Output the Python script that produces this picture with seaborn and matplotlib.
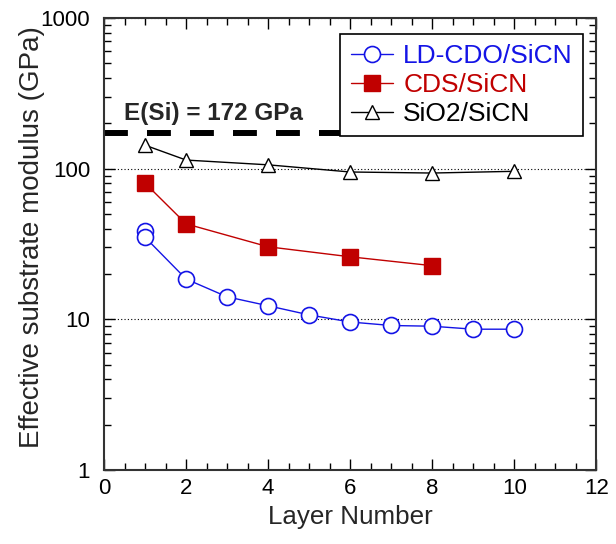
import matplotlib
matplotlib.use("Agg")
import matplotlib.pyplot as plt
from matplotlib.ticker import LogLocator, MultipleLocator, FixedLocator, NullFormatter
import seaborn as sns
import pandas as pd

# Effective substrate modulus (GPa) versus number of stacked layers
ld_cdo_layers = [1, 1, 2, 3, 4, 5, 6, 7, 8, 9, 10]
ld_cdo_modulus = [38.7, 35.0, 18.5, 14.1, 12.3, 10.7, 9.6, 9.1, 9.0, 8.6, 8.6]

cds_layers = [1, 2, 4, 6, 8]
cds_modulus = [80.0, 43.0, 30.3, 26.0, 22.7]

sio2_layers = [1, 2, 4, 6, 8, 10]
sio2_modulus = [143.0, 114.0, 106.0, 95.0, 93.5, 96.0]

e_si = 172.0
e_si_label = "E(Si) = 172 GPa"

series_names = ["LD-CDO/SiCN", "CDS/SiCN", "SiO2/SiCN"]
x_ticks = [0, 2, 4, 6, 8, 10, 12]
y_ticks = [1, 10, 100, 1000]

sns.set_style("ticks")
plt.rcParams["font.family"] = ["Liberation Sans", "DejaVu Sans"]

fig = plt.figure(figsize=(6.16, 5.44), dpi=100)
ax = fig.add_axes([0.169, 0.136, 0.799, 0.831])

styles = [
    dict(color="#1414e6", marker="o", ms=11.5, mfc="white", mec="#1414e6", mew=1.2),
    dict(color="#c00000", marker="s", ms=12, mfc="#c00000", mec="#c00000", mew=1.0),
    dict(color="black", marker="^", ms=10.5, mfc="white", mec="black", mew=1.0),
]
data = [(ld_cdo_layers, ld_cdo_modulus), (cds_layers, cds_modulus), (sio2_layers, sio2_modulus)]

for name, (xs, ys), st in zip(series_names, data, styles):
    df = pd.DataFrame({"layer": xs, "modulus": ys})
    sns.lineplot(data=df, x="layer", y="modulus", estimator=None, sort=False,
                 ax=ax, lw=1.0, color=st["color"], marker=st["marker"],
                 markersize=st["ms"], markerfacecolor=st["mfc"],
                 markeredgecolor=st["mec"], markeredgewidth=st["mew"],
                 label=name, zorder=3)

# Reference modulus of bulk silicon (dashed line runs up to the legend box)
ax.axhline(e_si, xmin=0, xmax=0.485, color="black", lw=4.3, dashes=(4.0, 3.2), zorder=2)
ax.text(0.48, 232, e_si_label, fontsize=17.5, fontweight="bold", va="center", ha="left")

ax.set_yscale("log")
ax.set_xlim(0, 12)
ax.set_ylim(1, 1000)
ax.xaxis.set_major_locator(FixedLocator(x_ticks))
ax.xaxis.set_minor_locator(MultipleLocator(0.5))
ax.yaxis.set_major_locator(FixedLocator(y_ticks))
ax.yaxis.set_minor_locator(LogLocator(base=10, subs=range(2, 10)))
ax.yaxis.set_minor_formatter(NullFormatter())
ax.set_yticklabels([str(t) for t in y_ticks])
ax.set_xticklabels([str(t) for t in x_ticks])

ax.tick_params(which="both", direction="in", top=True, right=True, labelsize=16, width=1.0, colors="black")
ax.tick_params(which="major", length=8)
ax.tick_params(axis="x", which="major", pad=6)
ax.tick_params(axis="y", which="major", pad=10)
ax.tick_params(which="minor", length=5)
for sp in ax.spines.values():
    sp.set_linewidth(1.5)
    sp.set_color("#333333")

ax.yaxis.grid(True, which="major", linestyle=(0, (1, 2)), color="black", lw=0.8)
ax.set_axisbelow(True)

ax.set_xlabel("Layer Number", fontsize=18.7, labelpad=4)
ax.set_ylabel("Effective substrate modulus (GPa)", fontsize=20)
ax.yaxis.set_label_coords(-0.12, 0.515)

leg = ax.legend(loc="upper right", bbox_to_anchor=(0.974, 0.965), fontsize=19,
                frameon=True, fancybox=False, framealpha=1, edgecolor="black",
                handlelength=1.6, handletextpad=0.4, borderpad=0.4, labelspacing=0.18,
                borderaxespad=0)
leg.get_frame().set_linewidth(1.2)
leg.set_zorder(5)
for txt, st in zip(leg.get_texts(), styles):
    txt.set_color(st["color"])

fig.savefig("out.png", dpi=100)
